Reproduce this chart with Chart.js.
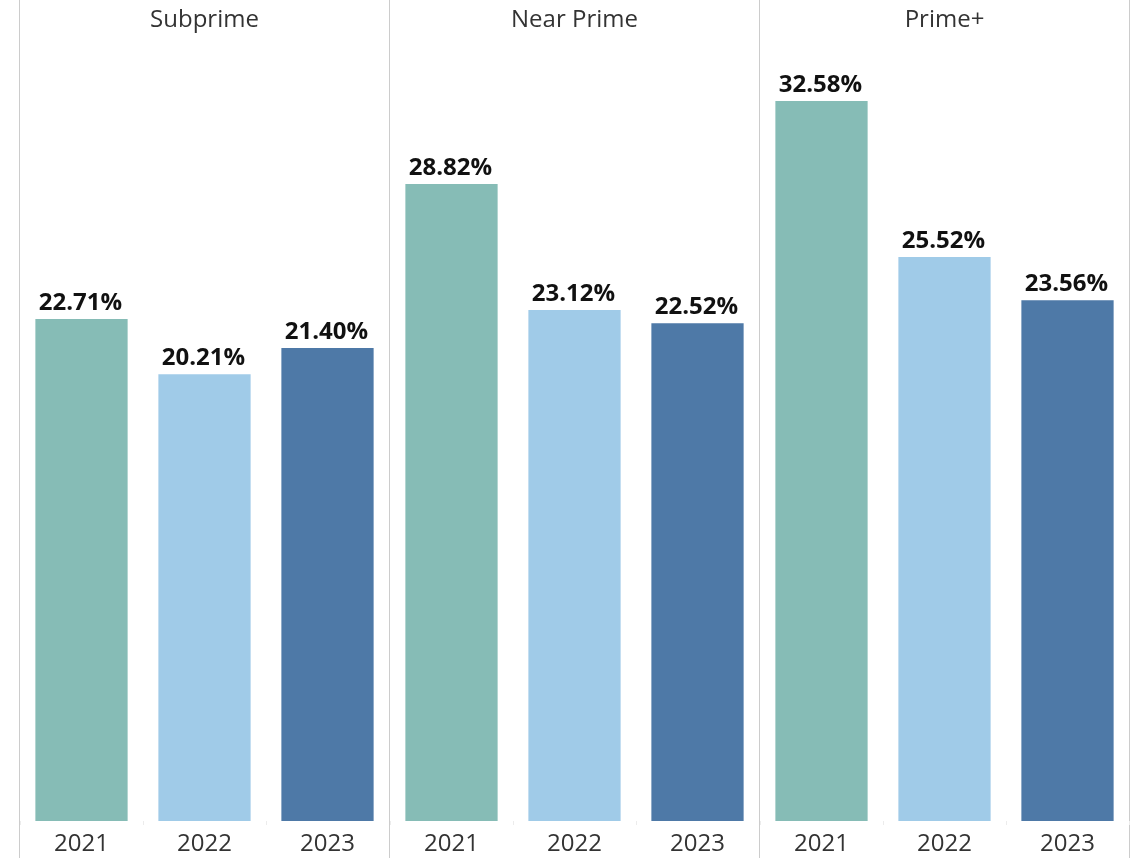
<!DOCTYPE html>
<html>
<head>
<meta charset="utf-8">
<title>Rate by credit tier and year</title>
<script src="https://cdn.jsdelivr.net/npm/chart.js@4/dist/chart.umd.min.js"></script>
<style>
  html, body { margin: 0; padding: 0; background: #ffffff; }
  #wrap { position: relative; width: 1133px; height: 858px; overflow: hidden; }
  .panel { position: absolute; top: 0; height: 858px; }
</style>
</head>
<body>
<div id="wrap">
  <div class="panel" style="left:19px;width:370px"><canvas id="c0"></canvas></div>
  <div class="panel" style="left:389px;width:370px"><canvas id="c1"></canvas></div>
  <div class="panel" style="left:759px;width:371px"><canvas id="c2"></canvas></div>
</div>
<script>
// Credit tiers (one panel each) and the years shown inside every panel
const segments = ['Subprime', 'Near Prime', 'Prime+'];
const years = ['2021', '2022', '2023'];

// Values in percent, ordered 2021, 2022, 2023
const subprime = [22.71, 20.21, 21.40];
const nearPrime = [28.82, 23.12, 22.52];
const primePlus = [32.58, 25.52, 23.56];

const yearColors = ['#86BCB6', '#A0CBE8', '#4E79A7'];

const FONT = '"Open Sans", "Noto Sans", sans-serif';

// Thin vertical separators on the panel edges
const panelFrame = {
  id: 'panelFrame',
  beforeDraw(chart, args, opts) {
    const ctx = chart.ctx;
    ctx.save();
    ctx.strokeStyle = '#cccccc';
    ctx.lineWidth = 1;
    ctx.beginPath();
    ctx.moveTo(0.5, 0);
    ctx.lineTo(0.5, chart.height);
    if (opts.right) {
      ctx.moveTo(chart.width - 0.5, 0);
      ctx.lineTo(chart.width - 0.5, chart.height);
    }
    ctx.stroke();
    ctx.restore();
  }
};

// Percentage label above every bar
const valueLabels = {
  id: 'valueLabels',
  afterDatasetsDraw(chart) {
    const ctx = chart.ctx;
    const meta = chart.getDatasetMeta(0);
    const values = chart.data.datasets[0].data;
    ctx.save();
    ctx.font = 'bold 24px ' + FONT;
    ctx.fillStyle = '#111111';
    ctx.textAlign = 'center';
    ctx.textBaseline = 'alphabetic';
    meta.data.forEach((bar, i) => {
      ctx.fillText(values[i].toFixed(2) + '%', bar.x - 1, bar.y - 9);
    });
    ctx.restore();
  }
};

function makePanel(canvasId, title, values, isLast) {
  return new Chart(document.getElementById(canvasId), {
    type: 'bar',
    data: {
      labels: years,
      datasets: [{
        data: values,
        backgroundColor: yearColors,
        borderWidth: 0,
        categoryPercentage: 1,
        barPercentage: 0.75
      }]
    },
    options: {
      responsive: true,
      maintainAspectRatio: false,
      animation: false,
      layout: { padding: { left: 1, right: isLast ? 1 : 0, top: 0, bottom: 0 } },
      plugins: {
        legend: { display: false },
        tooltip: { enabled: false },
        title: {
          display: true,
          text: title,
          color: '#333333',
          font: { family: FONT, size: 24, weight: 'normal', lineHeight: 1.2 },
          padding: { top: 6, bottom: 12.7 }
        },
        panelFrame: { right: isLast }
      },
      scales: {
        x: {
          grid: {
            display: true,
            offset: true,
            drawOnChartArea: false,
            drawTicks: true,
            tickLength: 4,
            color: '#ececec'
          },
          border: { display: false },
          ticks: {
            color: '#333333',
            font: { family: FONT, size: 24 },
            padding: 5,
            maxRotation: 0
          },
          afterFit(scale) { scale.height = 37; }
        },
        y: {
          display: false,
          min: 0,
          max: 35
        }
      }
    },
    plugins: [panelFrame, valueLabels]
  });
}

makePanel('c0', segments[0], subprime, false);
makePanel('c1', segments[1], nearPrime, false);
makePanel('c2', segments[2], primePlus, true);
</script>
</body>
</html>
